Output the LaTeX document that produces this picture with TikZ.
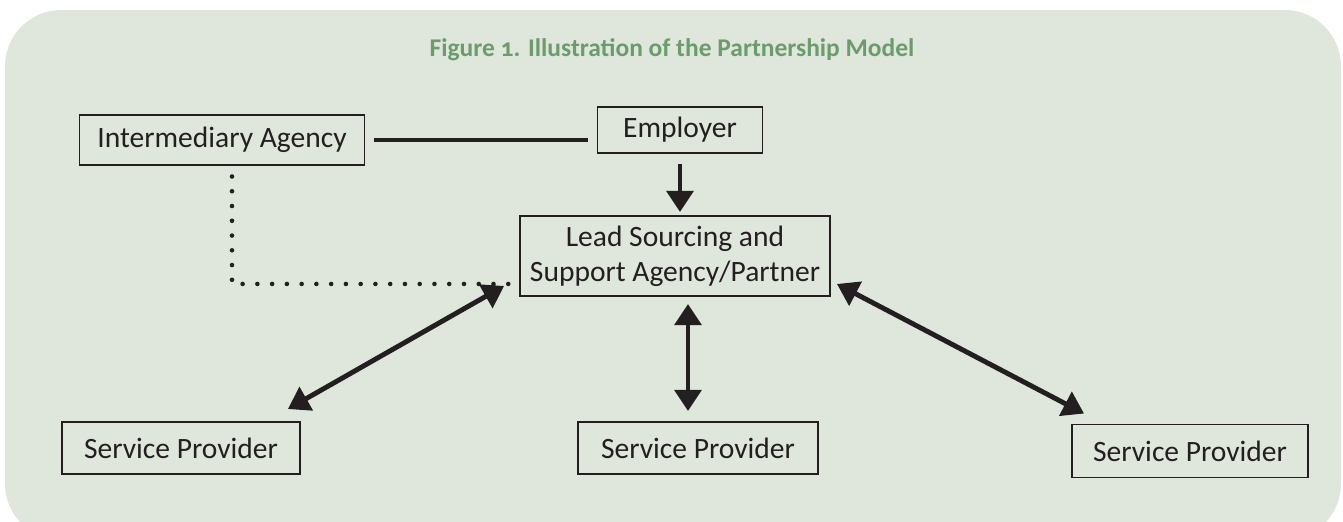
\documentclass[tikz,border=0pt]{standalone}
\usepackage{fontspec}
\setmainfont{Carlito}[Numbers=OldStyle]
\usetikzlibrary{arrows.meta,calc}
\definecolor{panelgreen}{RGB}{223,230,220}
\definecolor{titlegreen}{RGB}{108,156,108}
\definecolor{inkblack}{RGB}{35,31,32}
\begin{document}
\begin{tikzpicture}[x=0.02cm, y=-0.02cm,
partybox/.style={rectangle, draw=inkblack, line width=1.1pt, inner sep=2pt, font=\fontsize{16.8}{20}\selectfont, text=inkblack, align=center},
link/.style={draw=inkblack, line width=2.8pt},
twoway/.style={link, {Triangle[width=15pt,length=12pt]}-{Triangle[width=15pt,length=12pt]}},
oneway/.style={link, -{Triangle[width=15pt,length=12pt]}},
loose/.style={draw=inkblack, line width=2.6pt, line cap=round, dash pattern=on 0pt off 8.4pt},
]
\useasboundingbox (0,0) rectangle (1343,521);
\fill[panelgreen, rounded corners=32] (5,10) rectangle (1341,540);
\node[font=\fontsize{14.5}{17}\selectfont\bfseries, text=titlegreen] (title) at (672,50) {Figure 1. Illustration of the Partnership Model};

%Nodes
\node[partybox, minimum width=5.7cm,  minimum height=1cm]    (inter)    at (222,140) {Intermediary Agency};
\node[partybox, minimum width=3.3cm,  minimum height=0.92cm] (employer) at (680,130) {Employer};
\node[partybox, minimum width=6.2cm,  minimum height=1.6cm]  (lead)     at (675,256) {Lead Sourcing and\\Support Agency/Partner};
\node[partybox, minimum width=4.76cm, minimum height=1.04cm] (prov1)    at (181,448) {Service Provider};
\node[partybox, minimum width=4.8cm,  minimum height=1.04cm] (prov2)    at (698,448) {Service Provider};
\node[partybox, minimum width=4.72cm, minimum height=1.06cm] (prov3)    at (1190,451) {Service Provider};

%Lines
\draw[link, shorten <=5pt, shorten >=0.18cm] (inter.east) -- (inter.east -| employer.west);
\draw[oneway, shorten <=0.2cm, shorten >=0.06cm] (employer.south) -- (employer.south |- lead.north);
\draw[loose] ([xshift=0.2cm, yshift=-6pt]inter.south) |- ([xshift=-0.06cm, yshift=7.4pt]lead.south west);
\draw[twoway] ($(lead.south west)+(-15,-11)$) -- ($(prov1.north east)+(-13,-12)$);
\draw[twoway] ($(lead.south)+(13,7)$) -- ($(lead.south |- prov2.north)+(13,-10)$);
\draw[twoway] ($(lead.south east)+(6,-13)$) -- ($(prov3.north west)+(13,-10)$);
\end{tikzpicture}
\end{document}
